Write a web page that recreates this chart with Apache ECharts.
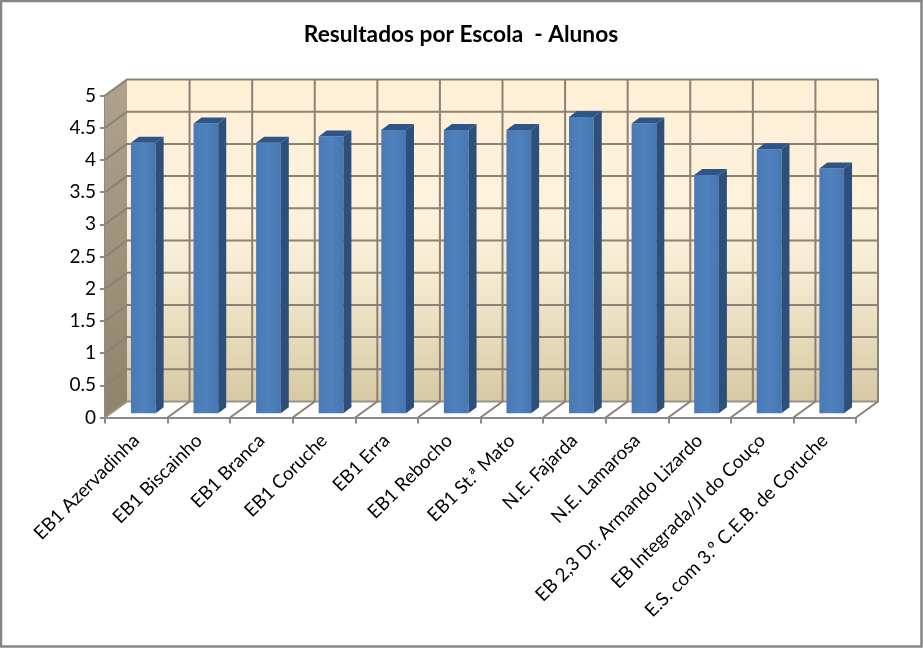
<!DOCTYPE html>
<html><head><meta charset="utf-8">
<style>html,body{margin:0;padding:0;background:#fff}#c{width:923px;height:648px}</style>
<script src="https://cdn.jsdelivr.net/npm/echarts@6/dist/echarts.min.js"></script>
</head><body><div id="c"></div>
<script>
const categories = ['EB1 Azervadinha','EB1 Biscainho','EB1 Branca','EB1 Coruche','EB1 Erra','EB1 Rebocho','EB1 St.ª Mato','N.E. Fajarda','N.E. Lamarosa','EB 2,3 Dr. Armando Lizardo','EB Integrada/JI do Couço','E.S. com 3.º C.E.B. de Coruche'];
const values = [4.2,4.5,4.2,4.3,4.4,4.4,4.4,4.6,4.5,3.7,4.1,3.8];
const yTicks = [0,0.5,1,1.5,2,2.5,3,3.5,4,4.5,5];
const DX = 22, DY = -16, LINE = '#8b8174';
const chart = echarts.init(document.getElementById('c'), null, {renderer:'canvas'});
chart.setOption({
  animation:false,
  backgroundColor:'#fff',
  title:{text:'Resultados por Escola  - Alunos',left:456,top:18,textAlign:'center',
    textStyle:{fontFamily:'Lato',fontWeight:'bold',fontSize:22.7,color:'#000'}},
  graphic:[{type:'rect',z:100,shape:{x:1,y:1,width:920.5,height:645.5},style:{fill:'none',stroke:'#858585',lineWidth:2.5}}],
  grid:{left:105,right:67,top:95.5,height:322,containLabel:false},
  xAxis:{type:'category',data:categories,boundaryGap:true,
    axisLine:{lineStyle:{color:'#8a8a8a',width:2}},
    axisTick:{show:true,alignWithLabel:false,length:6,lineStyle:{color:'#8a8a8a',width:2}},
    axisLabel:{interval:0,rotate:45,margin:20,fontFamily:'Lato',fontSize:18.7,color:'#000'}},
  yAxis:{type:'value',min:0,max:5,interval:0.5,
    splitLine:{show:false},
    axisLine:{show:true,lineStyle:{color:'#8a8a8a',width:2}},
    axisTick:{show:true,length:5,lineStyle:{color:'#8a8a8a',width:2}},
    axisLabel:{margin:9,fontFamily:'Lato',fontSize:19,color:'#000'}},
  series:[
    { // walls
      type:'custom',silent:true,clip:false,z:1,data:[[0,0]],
      renderItem(params,api){
        const s=params.coordSys, x0=s.x, y0=s.y, y1=s.y+s.height;
        return {type:'group',children:[
          {type:'polygon',shape:{points:[[x0,y0],[x0+DX,y0+DY],[x0+DX,y1+DY],[x0,y1]]},
           style:{fill:new echarts.graphic.LinearGradient(0,0,0,1,[{offset:0,color:'#b0a28c'},{offset:1,color:'#8f8469'}])}},
          {type:'rect',shape:{x:x0+DX,y:y0+DY,width:s.width,height:s.height},
           style:{fill:new echarts.graphic.LinearGradient(0,0,0,1,[{offset:0,color:'#ffefd5'},{offset:0.4,color:'#fdf2dc'},{offset:0.62,color:'#f4ead0'},{offset:1,color:'#d8c9a4'}])}}
        ]};
      }
    },
    { // horizontal grid lines
      type:'custom',silent:true,clip:false,z:2,data:yTicks.map(v=>[0,v]),encode:{x:0,y:1},
      renderItem(params,api){
        const s=params.coordSys, v=api.value(1), y=api.coord([0,v])[1], x0=s.x, x1=s.x+s.width;
        return {type:'polyline',shape:{points:[[x0,y],[x0+DX,y+DY],[x1+DX,y+DY]]},
          style:{stroke:v===0?'#9a9488':LINE,lineWidth:2,fill:'none'}};
      }
    },
    { // vertical grid and floor lines
      type:'custom',silent:true,clip:false,z:2,data:categories.map((c,i)=>[i,0]),encode:{x:0,y:1},
      renderItem(params,api){
        const i=api.value(0), band=api.size([1,0])[0];
        const x=api.coord([i,0])[0]+band/2, yB=api.coord([i,0])[1], yT=api.coord([i,5])[1];
        return {type:'polyline',shape:{points:[[x,yB],[x+DX,yB+DY],[x+DX,yT+DY]]},
          style:{stroke:LINE,lineWidth:2,fill:'none'}};
      }
    },
    { // 3D bars
      type:'custom',clip:false,z:3,data:values.map((v,i)=>[i,v]),encode:{x:0,y:1},
      renderItem(params,api){
        const i=api.value(0), v=api.value(1);
        const t=api.coord([i,v]), b=api.coord([i,0]), w=24.7, dx=8, dy=-6;
        const l=t[0]+7-w/2, r=l+w, top=t[1]-4.2, bot=b[1]-4.2;
        return {type:'group',children:[
          {type:'rect',shape:{x:l,y:top,width:w,height:bot-top},
           style:{fill:new echarts.graphic.LinearGradient(0,0,1,0,[{offset:0,color:'#4a7ab5'},{offset:0.5,color:'#4f81bd'},{offset:1,color:'#4677b1'}])}},
          {type:'polygon',shape:{points:[[l,top],[l+dx,top+dy],[r+dx,top+dy],[r,top]]},style:{fill:'#2f5587'}},
          {type:'polygon',shape:{points:[[r,top],[r+dx,top+dy],[r+dx,bot+dy],[r,bot]]},style:{fill:'#2d4f7c'}}
        ]};
      }
    }
  ]
});
</script></body></html>
